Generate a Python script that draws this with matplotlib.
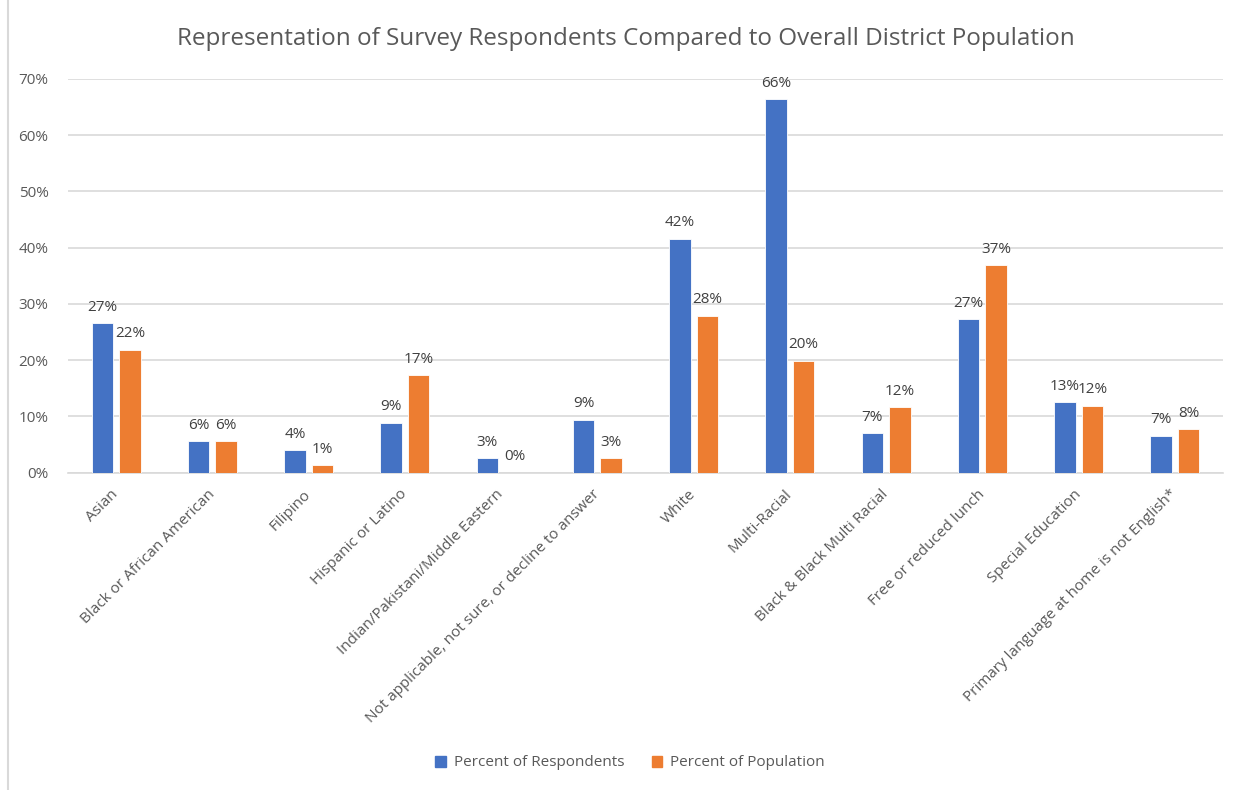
import matplotlib
matplotlib.use("Agg")
import matplotlib.pyplot as plt
import numpy as np
from matplotlib.lines import Line2D

categories = ["Asian", "Black or African American", "Filipino", "Hispanic or Latino",
              "Indian/Pakistani/Middle Eastern", "Not applicable, not sure, or decline to answer",
              "White", "Multi-Racial", "Black & Black Multi Racial", "Free or reduced lunch",
              "Special Education", "Primary language at home is not English*"]
respondents = [26.6, 5.6, 4.0, 8.9, 2.6, 9.4, 41.6, 66.4, 7.0, 27.3, 12.6, 6.6]
population = [21.9, 5.6, 1.3, 17.4, 0.0, 2.6, 27.9, 19.9, 11.6, 36.9, 11.9, 7.7]
series_names = ["Percent of Respondents", "Percent of Population"]
yticks = [0, 10, 20, 30, 40, 50, 60, 70]

plt.rcParams['font.family'] = ['Open Sans', 'DejaVu Sans']
BLUE = "#4472C4"
ORANGE = "#ED7D31"
GRID = "#D9D9D9"
TXT = "#595959"

fig = plt.figure(figsize=(12.39, 7.9), dpi=100)
ax = fig.add_axes([68/1239, 1-472.7/790, (1223-68)/1239, (472.7-79)/790])

x = np.arange(len(categories))
w = 0.225
off = 0.143
b1 = ax.bar(x - off, respondents, w, color=BLUE, edgecolor='white', linewidth=0.6, zorder=3)
b2 = ax.bar(x + off, population, w, color=ORANGE, edgecolor='white', linewidth=0.6, zorder=3)

for rects, vals in ((b1, respondents), (b2, population)):
    for r, v in zip(rects, vals):
        ax.annotate(f"{v:.0f}%", (r.get_x() + r.get_width()/2, v), xytext=(0, 6),
                    textcoords='offset points', ha='center', va='bottom',
                    fontsize=11, color="#404040")

ax.set_xlim(-0.5, len(categories) - 0.5)
ax.set_ylim(0, 70)
ax.set_yticks(yticks)
ax.set_yticklabels([f"{t}%" for t in yticks], fontsize=11, color=TXT)
ax.yaxis.grid(True, color=GRID, linewidth=1.2, zorder=0)
ax.tick_params(axis='y', length=0, pad=14)
ax.tick_params(axis='x', length=0)
for s in ['top', 'right', 'left']:
    ax.spines[s].set_visible(False)
ax.spines['bottom'].set_color(GRID)
ax.spines['bottom'].set_linewidth(1.2)

ax.set_xticks(x)
ax.set_xticklabels(categories, rotation=45, ha='right', rotation_mode='anchor',
                   fontsize=11, color=TXT)
for lab in ax.get_xticklabels():
    lab.set_va('center')
ax.tick_params(axis='x', pad=14)

fig.text(626/1239, 1-39/790, "Representation of Survey Respondents Compared to Overall District Population",
         ha='center', va='center', fontsize=17.5, color=TXT)

handles = [plt.Rectangle((0, 0), 1, 1, color=BLUE), plt.Rectangle((0, 0), 1, 1, color=ORANGE)]
fig.legend(handles, series_names, loc='center', bbox_to_anchor=(630/1239, 1-763/790), ncol=2,
           frameon=False, fontsize=11, labelcolor=TXT, handlelength=0.7, handleheight=0.7,
           handletextpad=0.5, columnspacing=1.8)

fig.add_artist(Line2D([8/1239, 8/1239], [0, 1], color=GRID, linewidth=1.5))

fig.savefig("out.png", dpi=100, facecolor='white')
